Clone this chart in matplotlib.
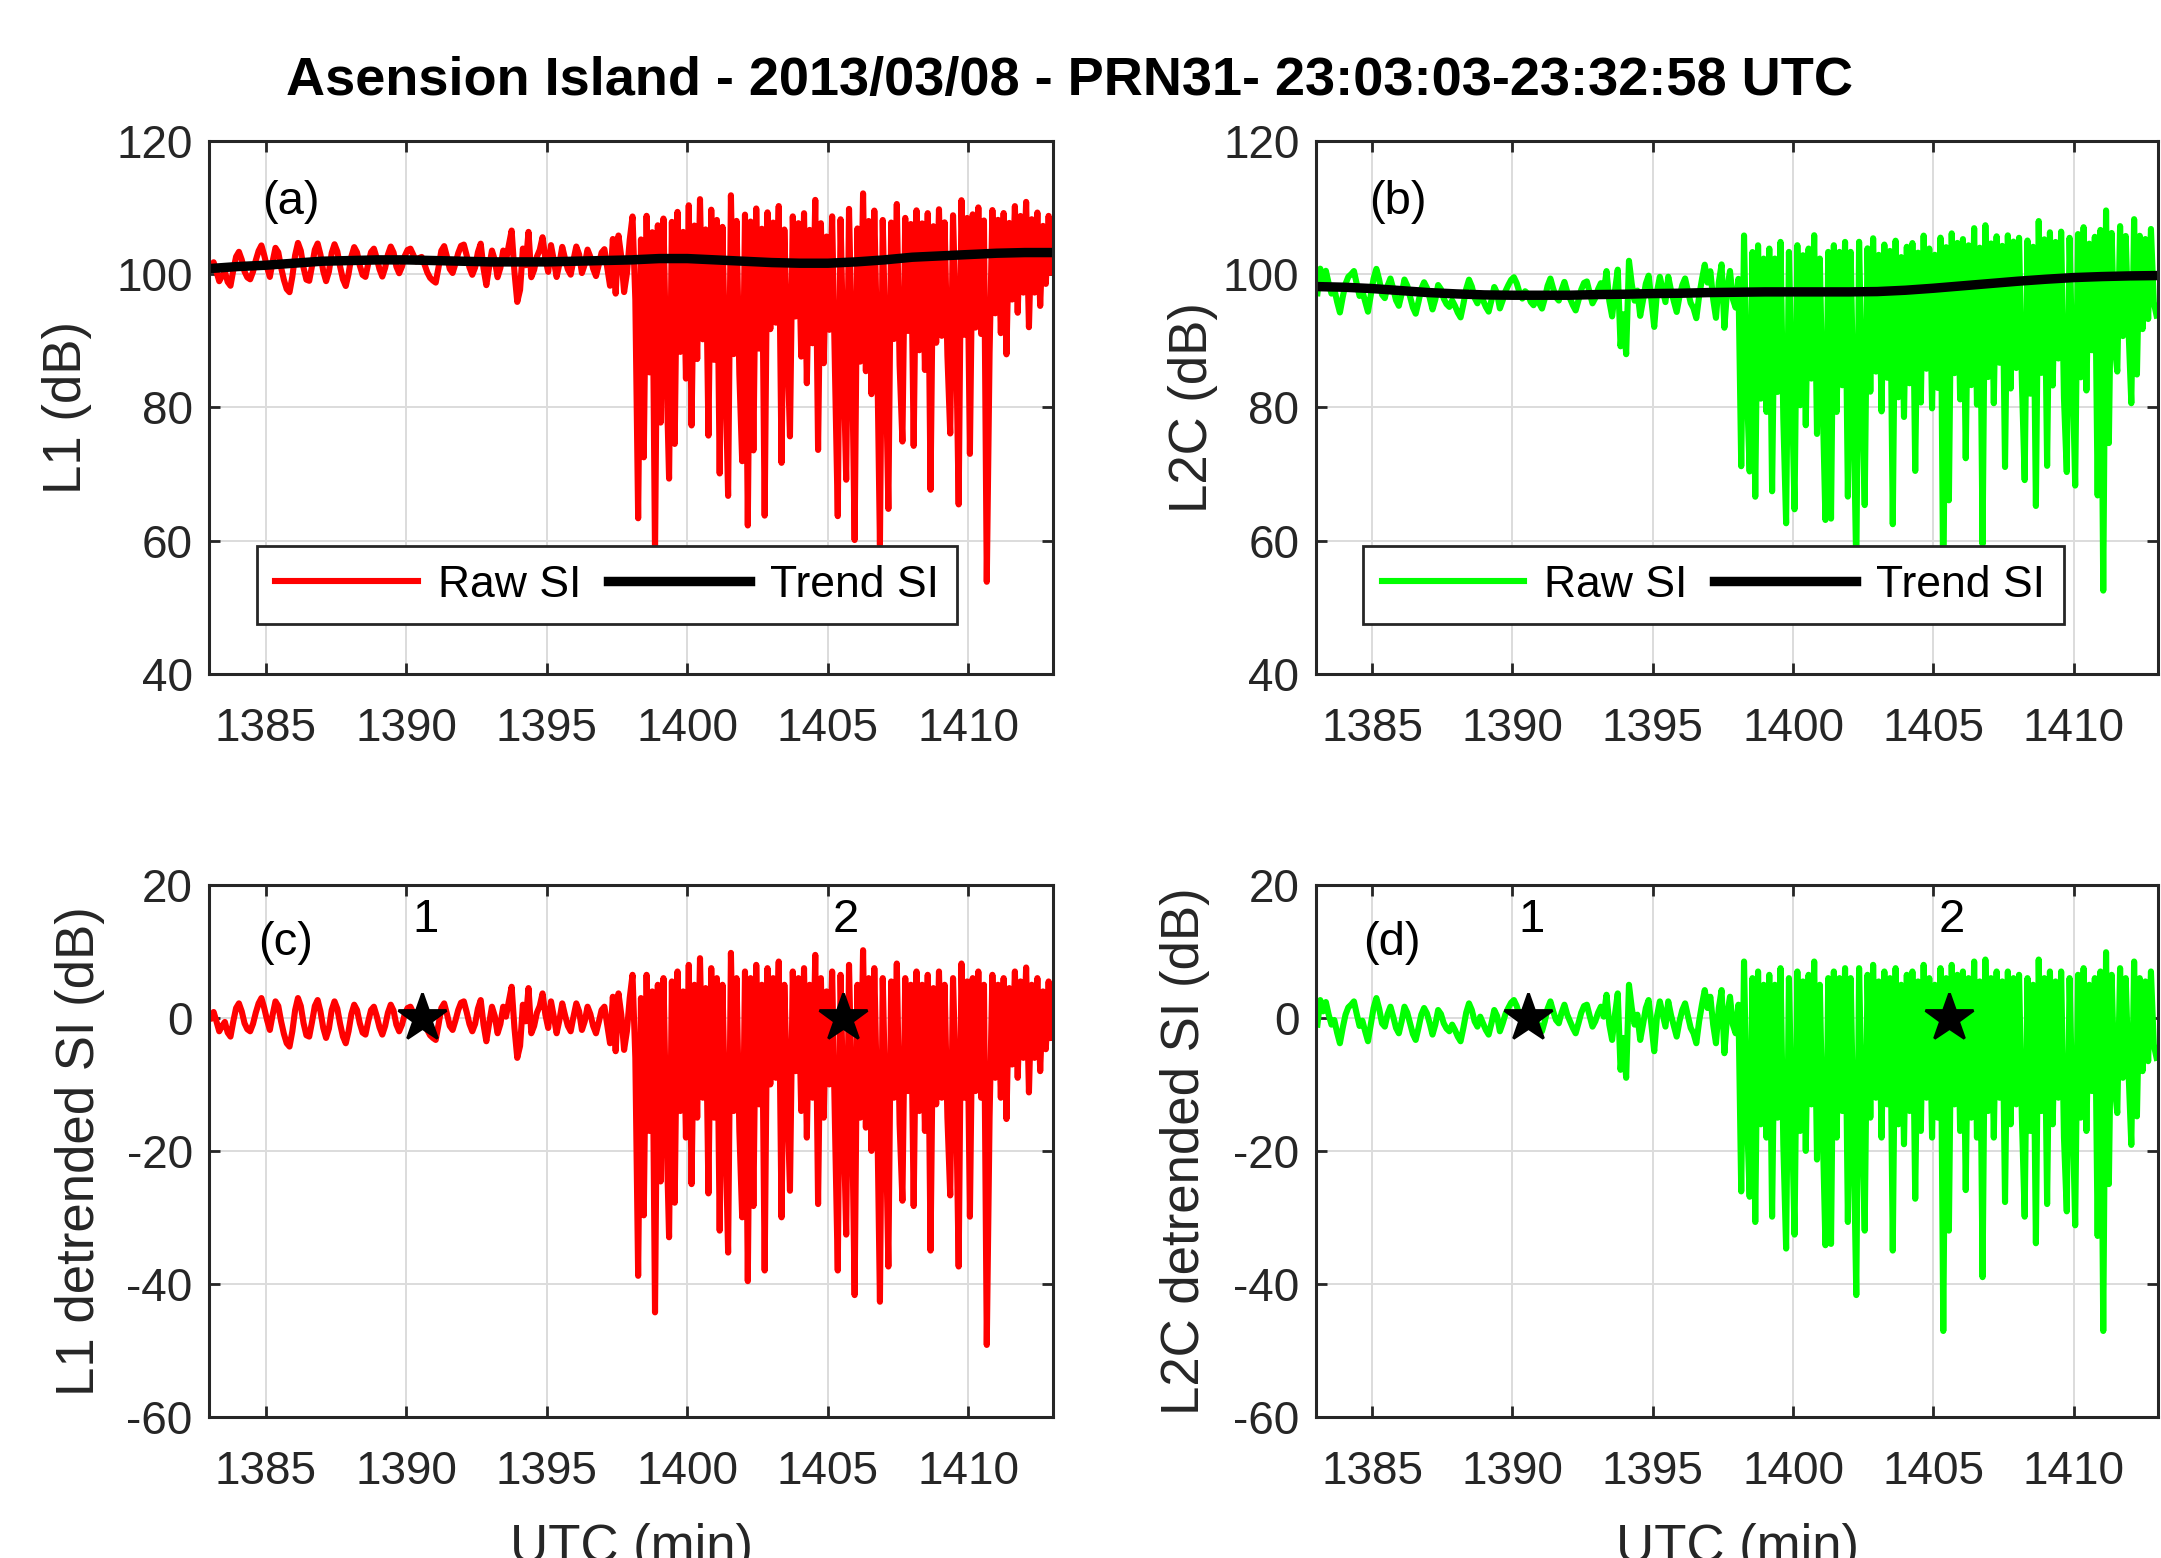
import numpy as np
import matplotlib
matplotlib.use("Agg")
import matplotlib.pyplot as plt

plt.rcParams['font.family'] = ['Liberation Sans', 'DejaVu Sans']
plt.rcParams['axes.unicode_minus'] = False

# sampling of the SI records (minutes of day), one row below = one minute
t_start = 1383.05
t_step = 0.1

# detrended L1 SI (dB)
l1_det = [
    0.0, 0.9, -0.5, -2.0, -1.2, -0.6, -2.2, -2.8, -0.5, 1.5,
    2.2, 1.0, -0.8, -1.7, -2.0, -0.9, 0.8, 2.2, 3.0, 1.5,
    -0.3, -1.8, 0.5, 2.5, 1.8, -0.5, -2.4, -3.8, -4.3, -2.0,
    1.2, 3.0, 1.8, -0.8, -2.6, -2.8, -0.6, 1.8, 2.7, 1.0,
    -1.5, -3.0, -1.6, 1.2, 2.5, 1.4, -0.9, -2.8, -3.8, -2.0,
    0.6, 2.0, 1.2, -0.8, -2.2, -2.5, -0.5, 1.2, 1.7, 0.3,
    -1.4, -2.5, -1.2, 0.8, 2.0, 1.1, -1.0, -2.0, -1.0, 0.6,
    1.5, 1.7, 0.8, -0.2, 0.3, 0.5, -0.6, -1.8, -2.6, -3.0,
    -3.3, -1.0, 1.5, 2.2, 0.6, -1.2, -1.8, -0.4, 1.2, 2.3,
    2.5, 0.9, -0.9, -2.0, -0.9, 1.4, 2.7, -1.0, -3.5, -0.8,
    1.7, 0.3, -2.3, -0.9, 1.7, 0.2, 2.5, 4.7, -1.5, -6.0,
    -4.2, 2.0, -0.5, 4.5, -2.3, -1.2, 0.8, 1.8, 3.7, 0.5,
    -1.5, 2.5, 0.2, -2.3, -0.3, 2.2, 0.4, -1.2, -2.0, 0.2,
    2.2, 1.0, -1.8, -0.5, 1.7, 0.6, -1.2, -2.3, -0.6, 1.2,
    1.7, -1.0, -3.8, 3.2, -5.0, 3.7, 0.5, -4.8, -2.0, 3.0,
    6.5, -6.0, -38.8, 3.0, -29.7, 6.5, -17.0, 4.0, -44.3, 5.0,
    -24.6, 6.0, -16.0, -33.0, 5.5, -27.8, 7.0, -14.0, 4.0, -18.0,
    8.0, -25.0, 5.0, -15.0, 9.0, -12.0, 4.5, -26.4, 7.5, -15.0,
    6.0, -32.0, 5.0, -16.0, -35.3, 9.8, -14.0, 6.0, -17.0, -30.0,
    7.0, -39.6, 6.0, -28.3, 8.0, -13.0, 5.0, -38.0, 7.5, -10.0,
    6.0, -9.0, 8.5, -30.0, 5.0, -11.0, -26.0, 7.0, -8.0, 6.0,
    -14.0, 7.5, -18.0, 5.0, -12.0, 9.5, -28.0, 6.0, -15.0, 4.0,
    -10.0, 7.0, -16.0, -38.0, 6.5, -14.0, -32.6, 8.0, -12.0, -41.7,
    5.0, -15.0, 10.2, -16.5, 6.0, -20.0, 7.5, -13.0, -42.7, 6.0,
    -14.0, -37.4, 5.5, -12.0, 8.2, -16.0, -27.5, 6.0, -11.0, 5.0,
    -28.3, 7.0, -14.0, 5.0, -17.0, 6.5, -35.0, 4.5, -13.0, 7.0,
    -12.0, 5.0, -15.0, -26.7, 6.0, -10.0, -37.4, 8.2, -12.0, 5.5,
    -29.9, 6.0, -11.0, 7.0, -12.0, 5.0, -49.2, -14.9, 6.5, -9.0,
    5.0, -12.0, 6.0, -15.2, 4.5, -7.0, 7.0, -9.0, 5.5, -6.0,
    7.6, -11.2, 5.0, -6.0, 6.0, -8.0, 4.0, -4.7, 5.5, -3.0,
]

# detrended L2C SI (dB)
l2_det = [
    -1.0, 2.7, 1.0, 2.4, 0.5, -1.0, -0.3, -2.2, -3.8, -1.5,
    0.5, 1.6, 2.0, 2.5, 0.6, -1.2, -0.4, -2.0, -3.5, -1.0,
    1.5, 3.0, 1.4, -0.8, -1.3, 0.6, 1.7, 0.2, -1.5, -2.3,
    -0.5, 1.7, 0.8, -0.8, -2.4, -3.3, -1.5, 0.5, 1.5, 0.7,
    -0.8, -2.5, -1.0, 1.2, 0.6, -0.8, -1.6, -2.0, -1.0, -1.8,
    -2.8, -3.5, -1.5, 0.8, 2.2, 1.2, -0.5, -1.3, 0.2, -0.8,
    -1.8, -2.5, -0.8, 1.2, 0.3, -2.0, -0.8, 0.6, 1.5, 2.3,
    2.7, 1.8, 0.4, -0.5, 0.6, 0.2, -1.0, -1.5, -0.5, -1.2,
    -2.0, -0.5, 1.4, 2.5, 1.0, -0.3, -0.8, 0.8, 2.0, 0.5,
    -0.5, -1.5, -2.3, -0.8, 0.8, 1.8, 2.0, 0.3, -1.3, -0.5,
    0.8, 1.7, 0.2, 3.5, -1.0, -3.3, 0.5, 3.7, -7.8, -3.0,
    -9.0, 5.0, 1.5, -1.0, 0.5, -3.3, -1.0, 1.5, 2.7, -1.0,
    -5.0, 0.3, 2.5, 0.6, -1.3, 2.5, 0.4, -1.2, -2.8, -0.5,
    1.2, 2.2, 0.3, -1.5, -2.3, -3.8, -0.5, 2.0, 4.2, 1.5,
    3.2, -1.0, -3.8, 1.5, 4.2, -5.3, 0.5, 3.2, -1.0, -2.3,
    2.0, -26.1, 8.5, -14.0, -26.9, 6.0, -30.7, 7.0, -16.0, 5.0,
    -18.0, 6.5, -29.9, 5.0, -15.0, 7.5, -19.0, -34.7, 6.0, -14.0,
    -32.6, 7.0, -17.0, 5.5, -20.0, 6.5, -13.0, 8.5, -21.3, 5.0,
    -16.0, -34.2, 6.0, -34.0, 7.0, -18.0, 6.0, -14.0, 7.5, -30.7,
    6.0, -17.0, -41.7, 7.5, -14.0, -32.0, 6.5, -15.0, 8.0, -12.0,
    5.5, -18.0, 7.0, -13.0, 6.0, -35.0, 7.5, -16.0, 5.0, -19.0,
    6.5, -14.0, 7.0, -27.2, 5.5, -17.0, 8.0, -12.0, 6.0, -18.0,
    5.0, -15.0, 7.5, -47.1, 6.0, -32.0, 8.0, -13.0, 6.5, -17.0,
    7.0, -25.9, 6.0, -15.0, 8.5, -18.0, 5.5, -39.0, 8.8, -14.0,
    6.0, -18.0, 7.0, -12.0, 5.5, -27.7, 7.0, -16.0, 6.0, -13.0,
    6.5, -15.0, -29.9, 6.0, -17.0, 5.0, -33.9, 8.8, -14.0, 6.0,
    -28.0, 7.0, -16.0, 5.5, -12.0, 7.0, -18.0, -29.1, 6.0, -13.0,
    -31.2, 6.5, -15.0, 7.5, -17.0, 5.0, -11.0, 6.0, -32.8, 7.0,
    -47.1, 9.9, -25.0, 6.5, -10.0, -14.3, 7.5, -9.0, 6.0, -8.0,
    -19.1, 8.5, -14.8, 6.0, -8.0, 5.5, -6.5, 7.0, -4.0, -6.0,
]

# trend SI (dB) at whole minutes
trend_min = list(range(1383, 1414))
l1_trend = [100.8, 101.1, 101.3, 101.6, 101.9, 102.0, 102.1, 102.1, 102.0, 101.9,
            101.8, 101.8, 101.8, 101.9, 102.0, 102.1, 102.3, 102.3, 102.1, 101.9,
            101.7, 101.6, 101.6, 101.8, 102.1, 102.5, 102.7, 102.9, 103.1, 103.2,
            103.2]
l2_trend = [98.1, 98.0, 97.8, 97.5, 97.2, 97.0, 96.85, 96.8, 96.8, 96.8,
            96.9, 96.95, 97.05, 97.1, 97.2, 97.25, 97.3, 97.3, 97.3, 97.3,
            97.35, 97.55, 97.85, 98.2, 98.55, 98.9, 99.2, 99.45, 99.6, 99.7,
            99.75]

# marked epochs 1 and 2
star_min = [1390.57, 1405.55]
star_names = ['1', '2']

xticks = [1385, 1390, 1395, 1400, 1405, 1410]

t = t_start + t_step * np.arange(len(l1_det))
l1_raw = np.array(l1_det) + np.interp(t, trend_min, l1_trend)
l2_raw = np.array(l2_det) + np.interp(t, trend_min, l2_trend)

DARK = '#262626'
RED = '#ff0000'
GREEN = '#00ff00'

fig = plt.figure(figsize=(10.805, 7.79), dpi=200)
ax_a = fig.add_axes([0.0969, 0.5674, 0.3903, 0.3424])
ax_b = fig.add_axes([0.6090, 0.5674, 0.3896, 0.3424])
ax_c = fig.add_axes([0.0969, 0.0907, 0.3903, 0.3412])
ax_d = fig.add_axes([0.6090, 0.0907, 0.3896, 0.3412])


def style(ax, ylim, yticks):
    ax.set_xlim(1383, 1413)
    ax.set_ylim(*ylim)
    ax.set_xticks(xticks)
    ax.set_yticks(yticks)
    ax.grid(True, color='#dcdcdc', lw=0.7)
    ax.set_axisbelow(True)
    ax.tick_params(direction='in', top=True, right=True, length=4, width=1.0,
                   colors=DARK, labelsize=16.5)
    ax.tick_params(axis='x', pad=12)
    ax.tick_params(axis='y', pad=6)
    for s in ax.spines.values():
        s.set_color(DARK)
        s.set_linewidth(1.1)


# raw + trend panels
for ax, raw, trend, col, lab, name in [(ax_a, l1_raw, l1_trend, RED, 'L1 (dB)', '(a)'),
                                      (ax_b, l2_raw, l2_trend, GREEN, 'L2C (dB)', '(b)')]:
    style(ax, (40, 120), [40, 60, 80, 100, 120])
    ax.plot(t, raw, color=col, lw=2.2, label='Raw SI')
    ax.plot(trend_min, trend, color='k', lw=3.4, label='Trend SI')
    ax.text(1385.9, 110.8, name, fontsize=17, ha='center', va='center')
    ax.set_ylabel(lab, fontsize=19, color=DARK)
    leg = ax.legend(ncol=2, loc='lower left', bbox_to_anchor=(0.056, 0.093),
                    borderaxespad=0, fontsize=16, handlelength=3.2,
                    handletextpad=0.45, columnspacing=0.6, borderpad=0.42,
                    fancybox=False, framealpha=1, edgecolor=DARK)
    leg.get_frame().set_linewidth(1.0)

ax_a.yaxis.set_label_coords(-0.139, 0.5)
ax_b.yaxis.set_label_coords(-0.116, 0.5)

# detrended panels
for ax, det, col, lab, name in [(ax_c, l1_det, RED, 'L1 detrended SI (dB)', '(c)'),
                               (ax_d, l2_det, GREEN, 'L2C detrended SI (dB)', '(d)')]:
    style(ax, (-60, 20), [-60, -40, -20, 0, 20])
    ax.plot(t, det, color=col, lw=2.2)
    ax.plot(star_min, [0, 0], linestyle='none', marker='*', ms=18, color='k')
    for sm, sn in zip(star_min, star_names):
        ax.text(sm + 0.1, 14.7, sn, fontsize=17, ha='center', va='center')
    ax.text(1385.7, 11.3, name, fontsize=17, ha='center', va='center')
    ax.set_ylabel(lab, fontsize=19, color=DARK)
    ax.set_xlabel('UTC (min)', fontsize=19, color=DARK)
    ax.xaxis.set_label_coords(0.5, -0.200)

ax_c.yaxis.set_label_coords(-0.124, 0.5)
ax_d.yaxis.set_label_coords(-0.126, 0.5)

fig.text(0.495, 0.948, 'Asension Island - 2013/03/08 - PRN31- 23:03:03-23:32:58 UTC',
         fontsize=19.5, fontweight='bold', ha='center', va='center')

fig.savefig('out.png', dpi=200)
